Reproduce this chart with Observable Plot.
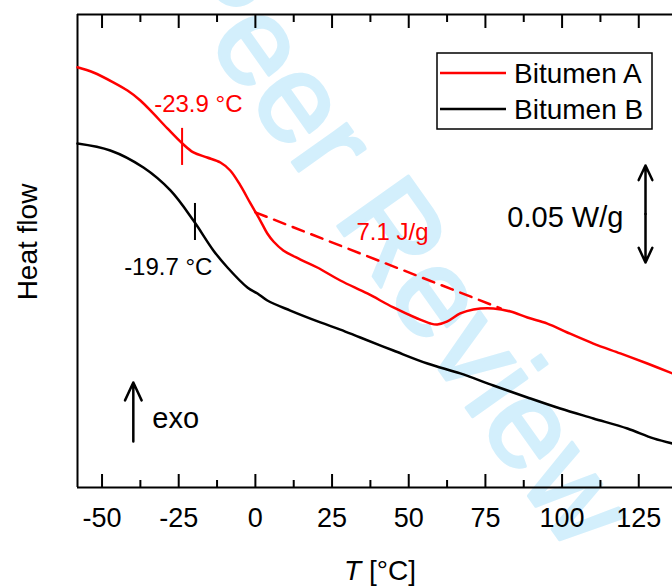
<!DOCTYPE html>
<html><head><meta charset="utf-8">
<script src="https://cdn.jsdelivr.net/npm/d3@7"></script>
<script src="https://cdn.jsdelivr.net/npm/@observablehq/plot@0.6"></script>
<style>html,body{margin:0;padding:0;background:#fff;overflow:hidden} svg{display:block}</style>
</head><body><div id="chart"></div>
<script>
// ---- data (heat flow in W/g, arbitrary offset) ----
const tempA = [-58.0,-52.8,-46.3,-41.7,-37.5,-33.3,-28.7,-23.8,-20.2,-15.7,-11.4,-8.2,-4.9,-1.6,1.6,3.9,5.9,9.1,14.7,20.2,27.7,36.5,45.0,52.8,57.1,59.3,62.6,66.8,71.1,77.6,83.2,88.7,95.2,101.7,110.2,119.0,127.8,136.0];
const flowA = [0.2166,0.2139,0.2088,0.2046,0.1995,0.1928,0.1851,0.1773,0.1727,0.1701,0.1675,0.1634,0.1557,0.1464,0.1376,0.1309,0.1268,0.1222,0.1175,0.1134,0.1067,0.1000,0.0928,0.0871,0.0845,0.0840,0.0856,0.0897,0.0918,0.0923,0.0907,0.0876,0.0845,0.0799,0.0742,0.0691,0.0639,0.0588];
const tempB = [-58.0,-47.3,-36.5,-27.7,-20.2,-13.7,-9.1,-2.6,0.7,3.9,11.4,21.2,27.7,34.2,45.0,56.1,66.8,77.6,88.7,99.4,110.2,121.3,129.8,136.0];
const flowB = [0.1773,0.1737,0.1649,0.1531,0.1376,0.1222,0.1134,0.1031,0.1000,0.0964,0.0912,0.0851,0.0814,0.0773,0.0706,0.0639,0.0588,0.0526,0.0464,0.0407,0.0356,0.0304,0.0253,0.0227];
const baseT = [0, 80];
const baseF = [0.1418, 0.0923];
const seriesNames = ["Bitumen A", "Bitumen B"];
const seriesColors = ["#ff0000", "#000000"];
const majorTicks = [-50,-25,0,25,50,75,100,125];
const minorTicks = [-37.5,-12.5,12.5,37.5,62.5,87.5,112.5];
const tgMarks = [
  {t: -23.9, y1: 0.1660, y2: 0.1851, color: "#ff0000"},
  {t: -19.7, y1: 0.1273, y2: 0.1464, color: "#000000"}
];
const notesMid = [
  {t: -18.6, f: 0.1974, text: "-23.9 °C", color: "#ff0000"},
  {t: -28.4, f: 0.1134, text: "-19.7 °C", color: "#000000"},
  {t: 44.7,  f: 0.1314, text: "7.1 J/g",  color: "#ff0000"}
];
const noteScale = [{t: 120.0, f: 0.1392, text: "0.05 W/g"}];
const noteExo = [{t: -33.6, f: 0.0356, text: "exo"}];
const scaleBar = {t: 127.2, mid: 0.141, half: 0.025};
const exoArrow = {t: -39.8, from: 0.0237, to: 0.0541};
const yDomain = [0, 0.2438];
const xDomain = [-58, 136];

const rowsA = tempA.map((t, i) => ({t, f: flowA[i]}));
const rowsB = tempB.map((t, i) => ({t, f: flowB[i]}));
const rowsBase = baseT.map((t, i) => ({t, f: baseF[i]}));
const font = "'Liberation Sans', Arial, Helvetica, sans-serif";

const plot = Plot.plot({
  width: 672, height: 586,
  marginLeft: 77, marginRight: 0, marginTop: 14, marginBottom: 99,
  x: {domain: xDomain, label: null},
  y: {domain: yDomain, axis: null},
  style: {fontFamily: font, background: "white", overflow: "visible"},
  marks: [
    Plot.ruleX([xDomain[0]], {stroke: "black", strokeWidth: 2}),
    Plot.ruleY(yDomain, {stroke: "black", strokeWidth: 2}),
    Plot.axisX({anchor: "bottom", ticks: majorTicks, tickSize: -13, tickFormat: () => "", label: null, strokeWidth: 2}),
    Plot.axisX({anchor: "bottom", ticks: minorTicks, tickSize: -7, tickFormat: () => "", label: null, strokeWidth: 2}),
    Plot.axisX({anchor: "top", ticks: majorTicks, tickSize: -13, tickFormat: () => "", label: null, strokeWidth: 2}),
    Plot.axisX({anchor: "top", ticks: minorTicks, tickSize: -7, tickFormat: () => "", label: null, strokeWidth: 2}),
    Plot.axisX({anchor: "bottom", ticks: majorTicks, tickSize: 0, tickPadding: 20, fontSize: 27, fill: "black", tickFormat: d => String(d), label: null}),
    Plot.line(rowsBase, {x: "t", y: "f", stroke: seriesColors[0], strokeWidth: 2.5, strokeDasharray: "12,8"}),
    Plot.line(rowsB, {x: "t", y: "f", stroke: seriesColors[1], strokeWidth: 2.5, curve: "catmull-rom"}),
    Plot.line(rowsA, {x: "t", y: "f", stroke: seriesColors[0], strokeWidth: 2.5, curve: "catmull-rom"}),
    Plot.ruleX(tgMarks, {x: "t", y1: "y1", y2: "y2", stroke: "color", strokeWidth: 2}),
    Plot.text(notesMid, {x: "t", y: "f", text: "text", fill: "color", fontSize: 24, textAnchor: "middle"}),
    Plot.text(noteScale, {x: "t", y: "f", text: "text", fill: "black", fontSize: 29, textAnchor: "end"}),
    Plot.text(noteExo, {x: "t", y: "f", text: "text", fill: "black", fontSize: 29, textAnchor: "start"}),
    Plot.arrow([scaleBar], {x1: "t", x2: "t", y1: "mid", y2: d => d.mid + d.half, stroke: "black", strokeWidth: 2.5, headLength: 16, headAngle: 50}),
    Plot.arrow([scaleBar], {x1: "t", x2: "t", y1: "mid", y2: d => d.mid - d.half, stroke: "black", strokeWidth: 2.5, headLength: 16, headAngle: 50}),
    Plot.arrow([exoArrow], {x1: "t", x2: "t", y1: "from", y2: "to", stroke: "black", strokeWidth: 2.5, headLength: 14, headAngle: 50})
  ]
});

const svg = d3.select(plot);
// watermark behind everything
svg.insert("text", ":first-child")
  .attr("transform", "translate(400,238) rotate(54.7)")
  .attr("text-anchor", "middle").attr("dy", "0.35em")
  .attr("font-family", font).attr("font-size", 126)
  .attr("fill", "#d3effc").attr("stroke", "#d3effc").attr("stroke-width", 3).attr("stroke-linejoin", "round")
  .text("Peer Review");
svg.insert("rect", ":first-child").attr("width", 672).attr("height", 586).attr("fill", "white");

// axis titles
svg.append("text")
  .attr("transform", "translate(37,242) rotate(-90)")
  .attr("text-anchor", "middle").attr("font-family", font).attr("font-size", 28).attr("fill", "black")
  .text("Heat flow");
const xl = svg.append("text").attr("x", 380).attr("y", 580).attr("text-anchor", "middle")
  .attr("font-family", font).attr("font-size", 28).attr("fill", "black");
xl.append("tspan").attr("font-style", "italic").text("T");
xl.append("tspan").text(" [°C]");

// legend
const lg = svg.append("g");
lg.append("rect").attr("x", 437).attr("y", 53).attr("width", 215).attr("height", 76)
  .attr("fill", "white").attr("stroke", "black").attr("stroke-width", 1.5);
seriesNames.forEach((name, i) => {
  const y = 73 + i * 36;
  lg.append("line").attr("x1", 440).attr("x2", 506).attr("y1", y).attr("y2", y)
    .attr("stroke", seriesColors[i]).attr("stroke-width", 2.5);
  lg.append("text").attr("x", 514).attr("y", y).attr("dy", "0.36em").attr("text-anchor", "start")
    .attr("font-family", font).attr("font-size", 28).attr("fill", "black").text(name);
});

document.getElementById("chart").appendChild(plot);
</script>
</body></html>
